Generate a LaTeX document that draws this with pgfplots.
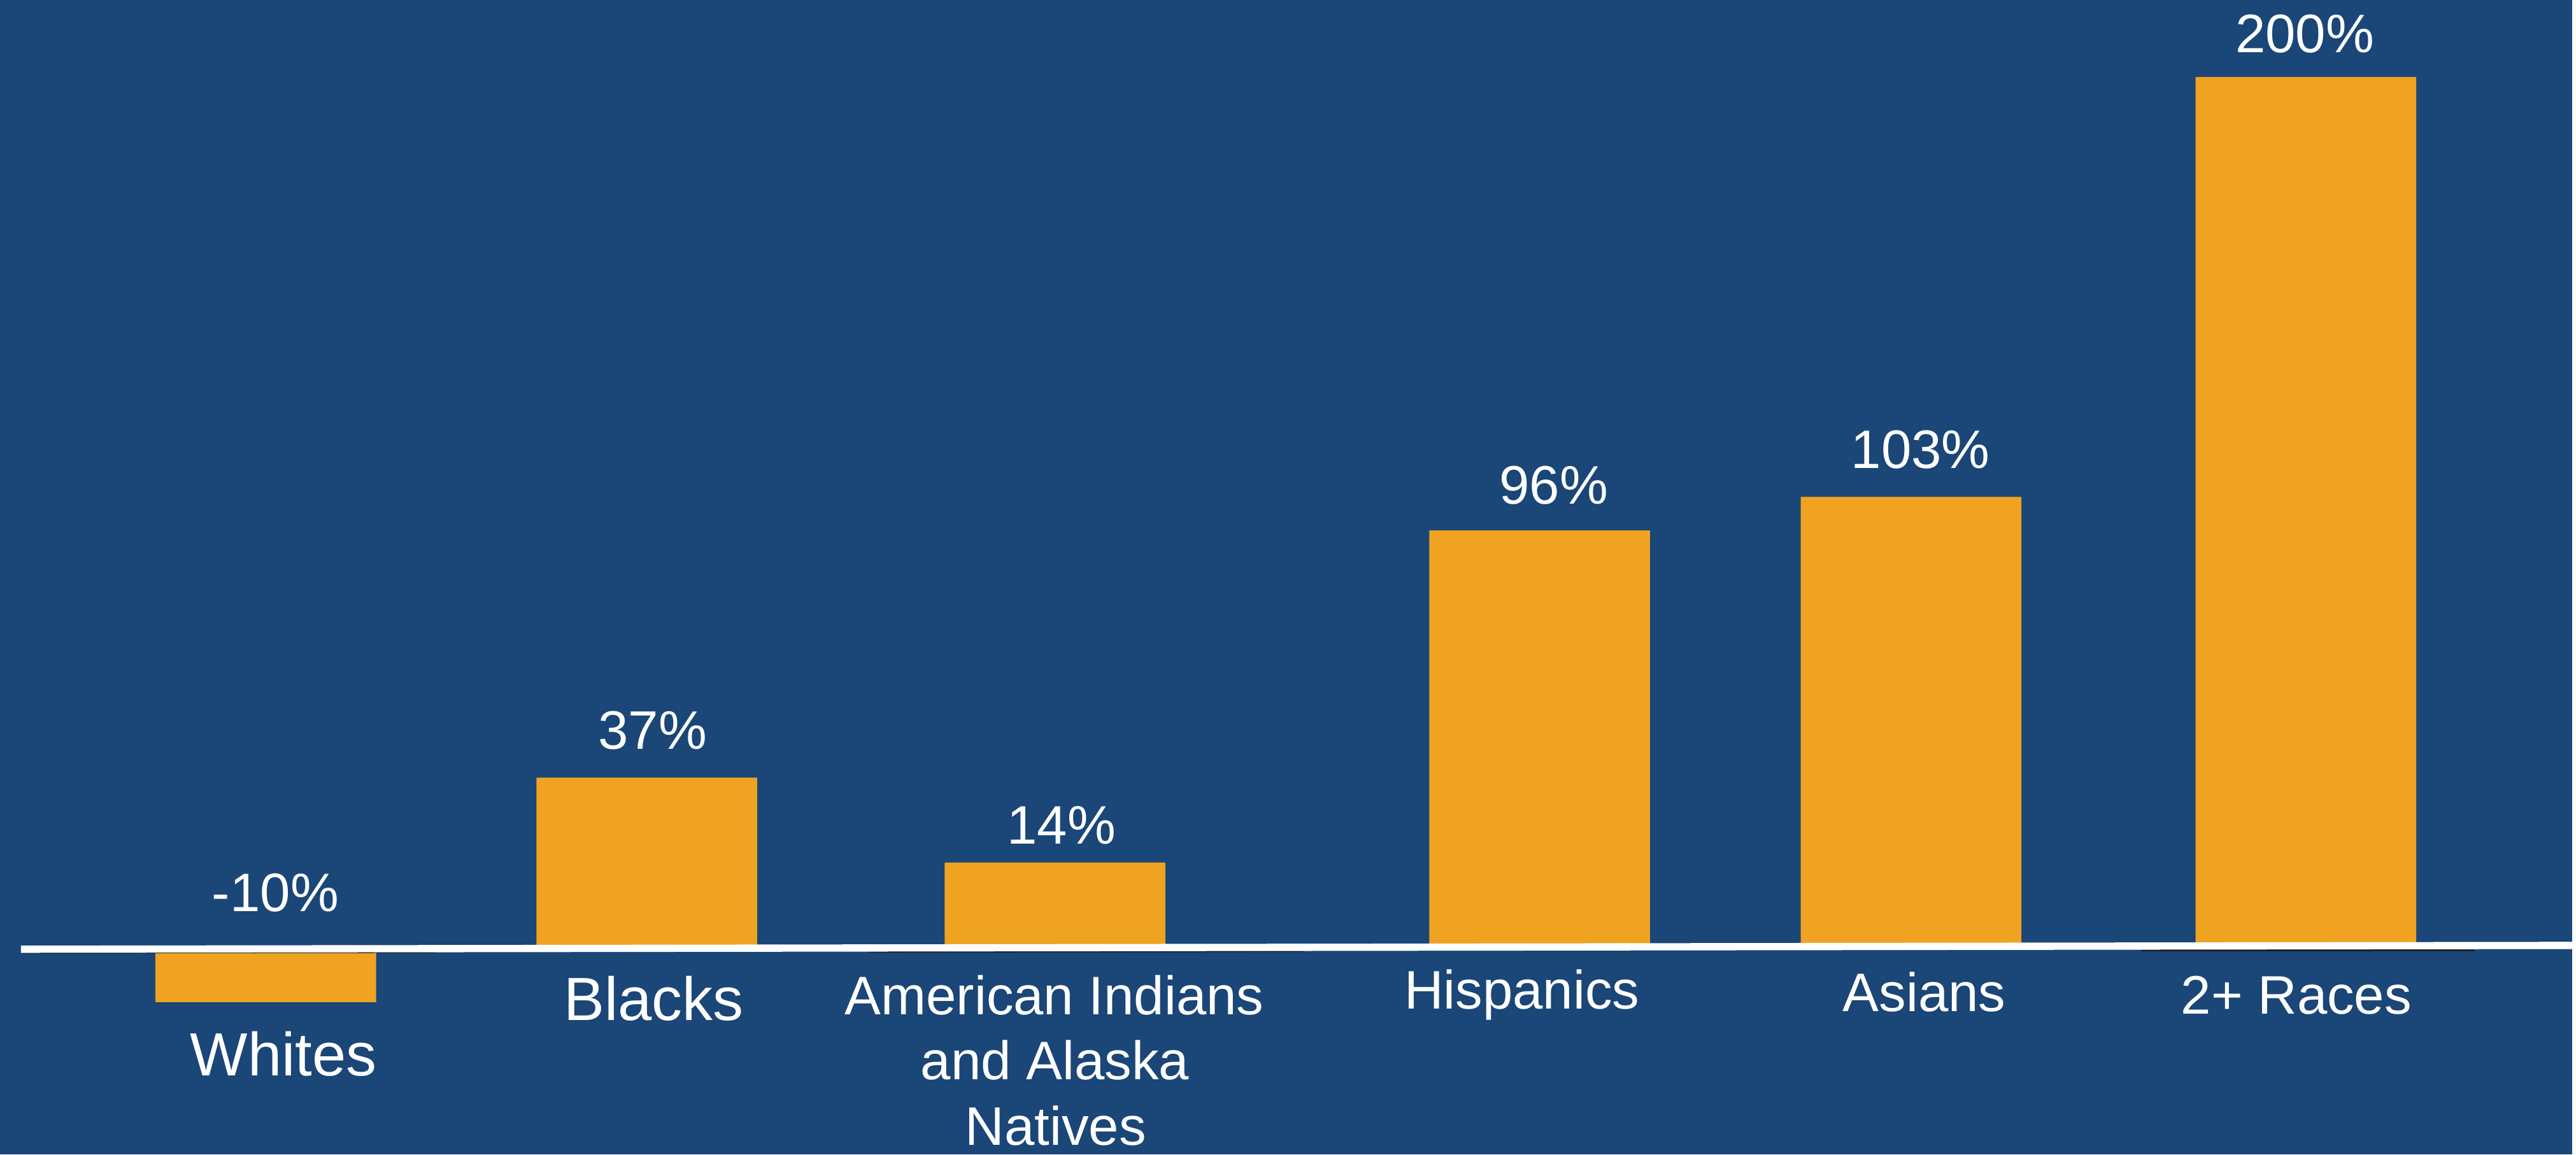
\documentclass[border=0pt]{standalone}
\usepackage{fontspec}
\setmainfont{Liberation Sans}
\usepackage{pgfplots}
\pgfplotsset{compat=1.18}
\definecolor{bgblue}{HTML}{1A4678}
\definecolor{barorange}{HTML}{F0A321}
\definecolor{lineshadow}{HTML}{1B1B1E}

\begin{document}
\begin{tikzpicture}
\begin{axis}[
    scale only axis,
    width=20cm, height=8.979cm,
    xmin=0, xmax=4045,
    ymin=-47.63, ymax=217.68,
    axis background/.style={fill=bgblue},
    axis line style={draw=none},
    xtick=\empty, ytick=\empty,
    clip=false,
]

% bars (x in pixels of the original slide, y in percent as drawn)
\addplot[ybar, bar width=347, fill=barorange, draw=none]
    coordinates {
    (418,-12.6)(1017,39.0)(1659,19.5)(2421,95.8)(3005,103.5)(3626,200)
    };

% dark shadow under the base line
\addplot[lineshadow, line width=0.6pt, unbounded coords=jump]
    coordinates {
    (33,-1.10)(684,-0.97)(nan,nan)(1367,-0.89)(2051,-0.75)(nan,nan)(3367,-0.62)(3891,-0.52)
    };

% base line
\addplot[white, line width=1.6pt] coordinates {(33,-0.44)(4045,0.44)};

% value labels
\addplot[draw=none, nodes near coords, point meta=explicit symbolic,
    every node near coord/.style={anchor=base, inner sep=0pt, text=white,
        font=\fontsize{12}{14}\selectfont}]
    coordinates {
    (433,8.18)[-10\%] (1026,45.58)[37\%] (1669,23.81)[14\%]
    (2443,101.87)[96\%] (3020,110.01)[103\%] (3624,205.55)[200\%]
    };

% category labels
\addplot[draw=none, nodes near coords, point meta=explicit symbolic,
    every node near coord/.style={anchor=base, inner sep=0pt, text=white,
        font=\fontsize{13.5}{16}\selectfont}]
    coordinates {
    (446,-29.47)[Whites] (1028,-16.80)[Blacks]
    };
\addplot[draw=none, nodes near coords, point meta=explicit symbolic,
    every node near coord/.style={anchor=base, inner sep=0pt, text=white,
        font=\fontsize{12}{14}\selectfont}]
    coordinates {
    (1658,-15.49)[American Indians] (1659,-30.39)[and Alaska] (1660,-45.39)[Natives]
    (2393,-14.17)[Hispanics] (3026,-14.71)[Asians] (3611,-15.34)[2+ Races]
    };

\end{axis}
\end{tikzpicture}
\end{document}
